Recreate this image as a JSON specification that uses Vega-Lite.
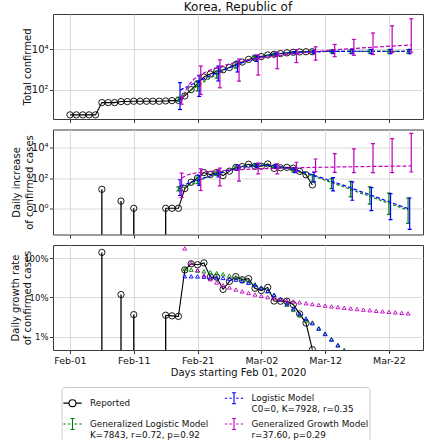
{
  "$schema": "https://vega.github.io/schema/vega-lite/v6.json",
  "background": "white",
  "padding": {"left": 9, "top": 0, "right": 4, "bottom": 2},
  "spacing": 4.5,
  "config": {
    "font": "DejaVu Sans",
    "view": {"stroke": "#3a3a3a", "strokeWidth": 1},
    "axis": {"labelFontSize": 10, "titleFontSize": 10, "titleFontWeight": "normal", "labelColor": "#111", "titleColor": "#111", "gridColor": "#d6d6d6", "gridWidth": 0.9, "tickColor": "#222", "tickSize": 3.5, "tickWidth": 0.9, "domain": false, "labelPadding": 1.5}
  },
  "resolve": {"scale": {"color": "independent", "shape": "independent"}, "legend": {"color": "independent", "shape": "independent"}},
  "datasets": {
    "rep": [
      {"day":0,"total":6},{"day":1,"total":6},{"day":2,"total":6},{"day":3,"total":6},{"day":4,"total":6},
      {"day":5,"total":24,"inc":18,"rate":138.6,"stem":true},
      {"day":6,"total":24},{"day":7,"total":24},
      {"day":8,"total":27,"inc":3,"rate":11.78,"stem":true},
      {"day":9,"total":27},
      {"day":10,"total":28,"inc":1,"rate":3.64,"stem":true},
      {"day":11,"total":28},{"day":12,"total":28},{"day":13,"total":28},{"day":14,"total":28},
      {"day":15,"total":29,"inc":1,"rate":3.51,"stem":true},
      {"day":16,"total":30,"inc":1,"rate":3.39},
      {"day":17,"total":31,"inc":1,"rate":3.28},
      {"day":18,"total":51,"inc":20,"rate":49.8},
      {"day":19,"total":104,"inc":53,"rate":71.3},
      {"day":20,"total":204,"inc":100,"rate":67.4},
      {"day":21,"total":433,"inc":229,"rate":75.3},
      {"day":22,"total":602,"inc":169,"rate":32.95},
      {"day":23,"total":833,"inc":231,"rate":32.48},
      {"day":24,"total":977,"inc":144,"rate":15.95},
      {"day":25,"total":1261,"inc":284,"rate":25.52},
      {"day":26,"total":1766,"inc":505,"rate":33.68},
      {"day":27,"total":2337,"inc":571,"rate":28.02},
      {"day":28,"total":3150,"inc":813,"rate":29.85},
      {"day":29,"total":3736,"inc":586,"rate":17.06},
      {"day":30,"total":4335,"inc":599,"rate":14.87},
      {"day":31,"total":5186,"inc":851,"rate":17.92},
      {"day":32,"total":5621,"inc":435,"rate":8.05},
      {"day":33,"total":6088,"inc":467,"rate":7.98},
      {"day":34,"total":6593,"inc":505,"rate":7.97},
      {"day":35,"total":7041,"inc":448,"rate":6.57},
      {"day":36,"total":7314,"inc":273,"rate":3.80},
      {"day":37,"total":7478,"inc":164,"rate":2.22},
      {"day":38,"total":7513,"inc":35,"rate":0.467}
    ],
    "mod": [
      {"m":"G","day":17,"C":35,"dC":18.9,"Clo":28,"Chi":44,"dlo":14,"dhi":26},
      {"m":"G","day":18,"C":59.3,"dC":24.3,"g":52.7},
      {"m":"G","day":19,"C":98.2,"dC":38.9,"g":50.4},
      {"m":"G","day":20,"C":158.8,"dC":60.6,"g":48.1,"Clo":90,"Chi":260,"dlo":42,"dhi":117},
      {"m":"G","day":21,"C":251.3,"dC":92.5,"g":45.9},
      {"m":"G","day":22,"C":388.8,"dC":137.5,"g":43.6},
      {"m":"G","day":23,"C":587.3,"dC":198.5,"g":41.2,"Clo":380,"Chi":850,"dlo":150,"dhi":260},
      {"m":"G","day":24,"C":864.5,"dC":277.2,"g":38.7},
      {"m":"G","day":25,"C":1236.8,"dC":372.3,"g":35.8},
      {"m":"G","day":26,"C":1714.6,"dC":477.8,"g":32.7,"Clo":1200,"Chi":2400,"dlo":370,"dhi":600},
      {"m":"G","day":27,"C":2295.8,"dC":581.2,"g":29.2},
      {"m":"G","day":28,"C":2962,"dC":666.2,"g":25.5},
      {"m":"G","day":29,"C":3677,"dC":715,"g":21.6,"Clo":3000,"Chi":4400,"dlo":600,"dhi":850},
      {"m":"G","day":30,"C":4396,"dC":719,"g":17.9},
      {"m":"G","day":31,"C":5074,"dC":678,"g":14.35},
      {"m":"G","day":32,"C":5677,"dC":603,"g":11.2,"Clo":5000,"Chi":6300,"dlo":500,"dhi":720},
      {"m":"G","day":33,"C":6186,"dC":509,"g":8.59},
      {"m":"G","day":34,"C":6599,"dC":413,"g":6.46},
      {"m":"G","day":35,"C":6922,"dC":323,"g":4.78,"Clo":6300,"Chi":7500,"dlo":250,"dhi":420},
      {"m":"G","day":36,"C":7169,"dC":247,"g":3.51},
      {"m":"G","day":37,"C":7354,"dC":185,"g":2.6},
      {"m":"G","day":38,"C":7499,"dC":145,"g":2.3,"Clo":6700,"Chi":8300,"dlo":60,"dhi":170},
      {"m":"G","day":39,"C":7601,"dC":102,"g":1.66},
      {"m":"G","day":40,"C":7672,"dC":71,"g":1.2},
      {"m":"G","day":41,"C":7723,"dC":51,"g":0.87,"Clo":6500,"Chi":9000,"dlo":20,"dhi":90},
      {"m":"G","day":42,"C":7758,"dC":35.4,"g":0.62},
      {"m":"G","day":43,"C":7783,"dC":25,"g":0.46},
      {"m":"G","day":44,"C":7801,"dC":17.7,"Clo":6400,"Chi":9200,"dlo":5.6,"dhi":60},
      {"m":"G","day":45,"C":7813.5,"dC":12.4},
      {"m":"G","day":46,"C":7822,"dC":8.7},
      {"m":"G","day":47,"C":7828.4,"dC":6.2,"Clo":6400,"Chi":9300,"dlo":1.9,"dhi":26},
      {"m":"G","day":48,"C":7832.7,"dC":4.3},
      {"m":"G","day":49,"C":7835.8,"dC":3.05},
      {"m":"G","day":50,"C":7837.9,"dC":2.15,"Clo":6400,"Chi":9300,"dlo":0.4,"dhi":10},
      {"m":"G","day":51,"C":7839.4,"dC":1.5},
      {"m":"G","day":52,"C":7840.5,"dC":1.07},
      {"m":"G","day":53,"C":7841.2,"dC":0.75,"Clo":6400,"Chi":9300,"dlo":0.1,"dhi":4.8},
      {"m":"L","day":17,"C":98.6,"dC":28.9,"Clo":11,"Chi":229,"dlo":7,"dhi":77},
      {"m":"L","day":18,"C":139.2,"dC":40.6,"g":34.49},
      {"m":"L","day":19,"C":196.0,"dC":56.8,"g":34.22},
      {"m":"L","day":20,"C":275.3,"dC":79.3,"g":33.98,"Clo":48,"Chi":518,"dlo":33,"dhi":150},
      {"m":"L","day":21,"C":385.0,"dC":109.7,"g":33.54},
      {"m":"L","day":22,"C":535.3,"dC":150.3,"g":32.96},
      {"m":"L","day":23,"C":738.9,"dC":203.6,"g":32.24,"Clo":276,"Chi":1480,"dlo":117,"dhi":320},
      {"m":"L","day":24,"C":1009.2,"dC":270.3,"g":31.18},
      {"m":"L","day":25,"C":1359.6,"dC":350.4,"g":29.80},
      {"m":"L","day":26,"C":1800.2,"dC":440.6,"g":28.07,"Clo":760,"Chi":2590,"dlo":320,"dhi":700},
      {"m":"L","day":27,"C":2332.5,"dC":532.3,"g":25.91},
      {"m":"L","day":28,"C":2946.7,"dC":614.2,"g":23.37},
      {"m":"L","day":29,"C":3618.1,"dC":671.4,"g":20.53,"Clo":2500,"Chi":4800,"dlo":500,"dhi":900},
      {"m":"L","day":30,"C":4309.9,"dC":691.8,"g":17.50},
      {"m":"L","day":31,"C":4981.2,"dC":671.3,"g":14.48},
      {"m":"L","day":32,"C":5595.3,"dC":614.1,"g":11.63,"Clo":4600,"Chi":6500,"dlo":450,"dhi":800},
      {"m":"L","day":33,"C":6127.6,"dC":532.3,"g":9.09},
      {"m":"L","day":34,"C":6568.3,"dC":440.7,"g":6.95},
      {"m":"L","day":35,"C":6918.6,"dC":350.3,"g":5.20,"Clo":6100,"Chi":7700,"dlo":230,"dhi":480},
      {"m":"L","day":36,"C":7188.9,"dC":270.3,"g":3.85},
      {"m":"L","day":37,"C":7392.6,"dC":203.7,"g":2.9},
      {"m":"L","day":38,"C":7543.0,"dC":150.4,"g":2.2,"Clo":6300,"Chi":8800,"dlo":55,"dhi":248},
      {"m":"L","day":39,"C":7652.7,"dC":109.7,"g":1.6},
      {"m":"L","day":40,"C":7732.0,"dC":79.3,"g":1.17},
      {"m":"L","day":41,"C":7788.8,"dC":56.8,"g":0.84,"Clo":6100,"Chi":9500,"dlo":14,"dhi":105},
      {"m":"L","day":42,"C":7829.4,"dC":40.6,"g":0.6},
      {"m":"L","day":43,"C":7858.3,"dC":28.9,"g":0.43},
      {"m":"L","day":44,"C":7878.7,"dC":20.5,"Clo":6000,"Chi":9700,"dlo":3.4,"dhi":55},
      {"m":"L","day":45,"C":7893.2,"dC":14.4},
      {"m":"L","day":46,"C":7903.5,"dC":10.15},
      {"m":"L","day":47,"C":7910.7,"dC":7.15,"Clo":6000,"Chi":9800,"dlo":0.7,"dhi":23},
      {"m":"L","day":48,"C":7915.8,"dC":5.04},
      {"m":"L","day":49,"C":7919.4,"dC":3.55},
      {"m":"L","day":50,"C":7921.9,"dC":2.50,"Clo":6000,"Chi":9800,"dlo":0.18,"dhi":9.3},
      {"m":"L","day":51,"C":7923.7,"dC":1.76},
      {"m":"L","day":52,"C":7925.0,"dC":1.24},
      {"m":"L","day":53,"C":7925.9,"dC":0.875,"Clo":6000,"Chi":9800,"dlo":0.04,"dhi":4.8},
      {"m":"M","day":17,"C":28.7,"dC":99.6,"Clo":20,"Chi":45,"dlo":5,"dhi":210},
      {"m":"M","day":18,"C":164.9,"dC":165.4,"g":174.9},
      {"m":"M","day":19,"C":351.3,"dC":206,"g":75.6},
      {"m":"M","day":20,"C":572.5,"dC":237.3,"g":48.9,"Clo":60,"Chi":1500,"dlo":15,"dhi":400},
      {"m":"M","day":21,"C":822.5,"dC":263.7,"g":36.2},
      {"m":"M","day":22,"C":1097,"dC":286.5,"g":28.8},
      {"m":"M","day":23,"C":1394,"dC":307.2,"g":23.9,"Clo":128,"Chi":3000,"dlo":30,"dhi":450},
      {"m":"M","day":24,"C":1710,"dC":326,"g":20.4},
      {"m":"M","day":25,"C":2045,"dC":343,"g":17.8},
      {"m":"M","day":26,"C":2395,"dC":359.5,"g":15.8,"Clo":270,"Chi":3300,"dlo":63,"dhi":590},
      {"m":"M","day":27,"C":2760,"dC":374.5,"g":14.2},
      {"m":"M","day":28,"C":3145,"dC":388.8,"g":12.9},
      {"m":"M","day":29,"C":3533,"dC":402,"g":11.8,"Clo":540,"Chi":5200,"dlo":190,"dhi":950},
      {"m":"M","day":30,"C":3941,"dC":415.4,"g":10.9},
      {"m":"M","day":31,"C":4360,"dC":427.5,"g":10.13},
      {"m":"M","day":32,"C":4792,"dC":439.5,"g":9.45,"Clo":1100,"Chi":7300,"dlo":190,"dhi":870},
      {"m":"M","day":33,"C":5236,"dC":451,"g":8.85},
      {"m":"M","day":34,"C":5694,"dC":462,"g":8.33},
      {"m":"M","day":35,"C":6157,"dC":472.6,"g":7.86,"Clo":2200,"Chi":9500,"dlo":260,"dhi":1100},
      {"m":"M","day":36,"C":6634,"dC":483,"g":7.45},
      {"m":"M","day":37,"C":7122,"dC":493,"g":7.08},
      {"m":"M","day":38,"C":7617,"dC":502.7,"g":6.74,"Clo":2900,"Chi":13000,"dlo":260,"dhi":1800},
      {"m":"M","day":39,"C":8130,"dC":512.5,"g":6.43},
      {"m":"M","day":40,"C":8641,"dC":521.5,"g":6.15},
      {"m":"M","day":41,"C":9165,"dC":530.5,"g":5.89,"Clo":4300,"Chi":17000,"dlo":236,"dhi":4100},
      {"m":"M","day":42,"C":9703,"dC":539.2,"g":5.65},
      {"m":"M","day":43,"C":10240,"dC":547.8,"g":5.44},
      {"m":"M","day":44,"C":10790,"dC":556,"g":5.23,"Clo":5000,"Chi":30000,"dlo":230,"dhi":8500},
      {"m":"M","day":45,"C":11350,"dC":564.4,"g":5.04},
      {"m":"M","day":46,"C":11900,"dC":572.3,"g":4.87},
      {"m":"M","day":47,"C":12480,"dC":580.5,"g":4.71,"Clo":5500,"Chi":62000,"dlo":230,"dhi":18500},
      {"m":"M","day":48,"C":13060,"dC":588,"g":4.55},
      {"m":"M","day":49,"C":13640,"dC":595.6,"g":4.41},
      {"m":"M","day":50,"C":14240,"dC":603,"g":4.28,"Clo":7000,"Chi":140000,"dlo":230,"dhi":40000},
      {"m":"M","day":51,"C":14850,"dC":610,"g":4.15},
      {"m":"M","day":52,"C":15460,"dC":617.8,"g":4.03},
      {"m":"M","day":53,"C":16080,"dC":624.5,"g":3.92,"Clo":7200,"Chi":310000,"dlo":250,"dhi":89000}
    ]
  },
  "vconcat": [
    {
      "width": 370, "height": 105,
      "title": {"text": "Korea, Republic of", "fontSize": 12, "font": "DejaVu Sans", "fontWeight": "normal", "color": "#111", "anchor": "middle", "offset": 0},
      "encoding": {"x": {"field": "day", "type": "quantitative", "scale": {"domain": [-2.66, 55.34], "nice": false, "zero": false}, "axis": {"values": [0,10,20,30,40,50], "labels": false, "title": null}}},
      "layer": [
        {"data": {"name": "rep"}, "mark": {"type": "line", "color": "black", "strokeWidth": 1.1},
         "encoding": {"y": {"field": "total", "type": "quantitative", "scale": {"type": "log", "domain": [3.77, 530000], "nice": false},
           "axis": {"values": [100, 10000], "labelExpr": "datum.value == 100 ? '10²' : '10⁴'", "title": "Total confirmed", "titleX": -20.9, "titleY": 52.5, "titleBaseline": "bottom", "titleAngle": -90}}}},
        {"data": {"name": "rep"}, "mark": {"type": "point", "shape": "circle", "filled": false, "color": "black", "size": 40, "strokeWidth": 0.9, "opacity": 1},
         "encoding": {"y": {"field": "total", "type": "quantitative"}}},

        {"data": {"name": "mod"}, "transform": [{"filter": "datum.m === 'G'"}], "mark": {"type": "line", "color": "#008000", "strokeWidth": 1.2, "strokeDash": [3, 2], "clip": true},
         "encoding": {"y": {"field": "C", "type": "quantitative"}}},
        {"data": {"name": "mod"}, "transform": [{"filter": "datum.m === 'G' && isValid(datum.Clo)"}], "mark": {"type": "rule", "color": "#008000", "strokeWidth": 1.2, "clip": true},
         "encoding": {"y": {"field": "Clo", "type": "quantitative"}, "y2": {"field": "Chi"}}},
        {"data": {"name": "mod"}, "transform": [{"filter": "datum.m === 'G' && isValid(datum.Clo)"}, {"fold": ["Clo", "Chi"], "as": ["k", "v"]}], "mark": {"type": "tick", "orient": "horizontal", "color": "#008000", "size": 4, "thickness": 1.2, "opacity": 1, "clip": true},
         "encoding": {"y": {"field": "v", "type": "quantitative"}}},

        {"data": {"name": "mod"}, "transform": [{"filter": "datum.m === 'L'"}], "mark": {"type": "line", "color": "#0000ff", "strokeWidth": 1.2, "strokeDash": [4, 2], "xOffset": 1.6, "clip": true},
         "encoding": {"y": {"field": "C", "type": "quantitative"}}},
        {"data": {"name": "mod"}, "transform": [{"filter": "datum.m === 'L' && isValid(datum.Clo)"}], "mark": {"type": "rule", "color": "#0000ff", "strokeWidth": 1.2, "xOffset": 1.6, "clip": true},
         "encoding": {"y": {"field": "Clo", "type": "quantitative"}, "y2": {"field": "Chi"}}},
        {"data": {"name": "mod"}, "transform": [{"filter": "datum.m === 'L' && isValid(datum.Clo)"}, {"fold": ["Clo", "Chi"], "as": ["k", "v"]}], "mark": {"type": "tick", "orient": "horizontal", "color": "#0000ff", "size": 4, "thickness": 1.2, "opacity": 1, "xOffset": 1.6, "clip": true},
         "encoding": {"y": {"field": "v", "type": "quantitative"}}},

        {"data": {"name": "mod"}, "transform": [{"filter": "datum.m === 'M'"}], "mark": {"type": "line", "color": "#bf00bf", "strokeWidth": 1.2, "strokeDash": [4, 2], "xOffset": 3.2, "clip": true},
         "encoding": {"y": {"field": "C", "type": "quantitative"}}},
        {"data": {"name": "mod"}, "transform": [{"filter": "datum.m === 'M' && isValid(datum.Clo)"}], "mark": {"type": "rule", "color": "#bf00bf", "strokeWidth": 1.2, "xOffset": 3.2, "clip": true},
         "encoding": {"y": {"field": "Clo", "type": "quantitative"}, "y2": {"field": "Chi"}}},
        {"data": {"name": "mod"}, "transform": [{"filter": "datum.m === 'M' && isValid(datum.Clo)"}, {"fold": ["Clo", "Chi"], "as": ["k", "v"]}], "mark": {"type": "tick", "orient": "horizontal", "color": "#bf00bf", "size": 4, "thickness": 1.2, "opacity": 1, "xOffset": 3.2, "clip": true},
         "encoding": {"y": {"field": "v", "type": "quantitative"}}}
      ]
    },
    {
      "width": 370, "height": 105,
      "encoding": {"x": {"field": "day", "type": "quantitative", "scale": {"domain": [-2.66, 55.34], "nice": false, "zero": false}, "axis": {"values": [0,10,20,30,40,50], "labels": false, "title": null}}},
      "layer": [
        {"data": {"name": "rep"}, "transform": [{"filter": "datum.stem === true"}], "mark": {"type": "rule", "color": "black", "strokeWidth": 1.3, "clip": true},
         "encoding": {"y": {"field": "inc", "type": "quantitative", "scale": {"type": "log", "domain": [0.0186, 160000], "nice": false},
           "axis": {"values": [1, 100, 10000], "labelExpr": "datum.value == 1 ? '10⁰' : datum.value == 100 ? '10²' : '10⁴'", "title": ["Daily increase", "of confirmed cases"], "titleX": -31.2, "titleY": 52.5, "titleBaseline": "bottom", "titleAngle": -90, "titleLineHeight": 12.6}},
           "y2": {"datum": 0.001}}},
        {"data": {"name": "rep"}, "transform": [{"filter": "datum.day >= 15"}], "mark": {"type": "line", "color": "black", "strokeWidth": 1.1, "clip": true},
         "encoding": {"y": {"field": "inc", "type": "quantitative"}}},
        {"data": {"name": "rep"}, "transform": [{"filter": "isValid(datum.inc)"}], "mark": {"type": "point", "shape": "circle", "filled": false, "color": "black", "size": 40, "strokeWidth": 0.9, "opacity": 1, "clip": true},
         "encoding": {"y": {"field": "inc", "type": "quantitative"}}},

        {"data": {"name": "mod"}, "transform": [{"filter": "datum.m === 'G'"}], "mark": {"type": "line", "color": "#008000", "strokeWidth": 1.2, "strokeDash": [3, 2], "clip": true},
         "encoding": {"y": {"field": "dC", "type": "quantitative"}}},
        {"data": {"name": "mod"}, "transform": [{"filter": "datum.m === 'G' && isValid(datum.dlo)"}], "mark": {"type": "rule", "color": "#008000", "strokeWidth": 1.2, "clip": true},
         "encoding": {"y": {"field": "dlo", "type": "quantitative"}, "y2": {"field": "dhi"}}},
        {"data": {"name": "mod"}, "transform": [{"filter": "datum.m === 'G' && isValid(datum.dlo)"}, {"fold": ["dlo", "dhi"], "as": ["k", "v"]}], "mark": {"type": "tick", "orient": "horizontal", "color": "#008000", "size": 4, "thickness": 1.2, "opacity": 1, "clip": true},
         "encoding": {"y": {"field": "v", "type": "quantitative"}}},

        {"data": {"name": "mod"}, "transform": [{"filter": "datum.m === 'L'"}], "mark": {"type": "line", "color": "#0000ff", "strokeWidth": 1.2, "strokeDash": [4, 2], "xOffset": 1.6, "clip": true},
         "encoding": {"y": {"field": "dC", "type": "quantitative"}}},
        {"data": {"name": "mod"}, "transform": [{"filter": "datum.m === 'L' && isValid(datum.dlo)"}], "mark": {"type": "rule", "color": "#0000ff", "strokeWidth": 1.2, "xOffset": 1.6, "clip": true},
         "encoding": {"y": {"field": "dlo", "type": "quantitative"}, "y2": {"field": "dhi"}}},
        {"data": {"name": "mod"}, "transform": [{"filter": "datum.m === 'L' && isValid(datum.dlo)"}, {"fold": ["dlo", "dhi"], "as": ["k", "v"]}], "mark": {"type": "tick", "orient": "horizontal", "color": "#0000ff", "size": 4, "thickness": 1.2, "opacity": 1, "xOffset": 1.6, "clip": true},
         "encoding": {"y": {"field": "v", "type": "quantitative"}}},

        {"data": {"name": "mod"}, "transform": [{"filter": "datum.m === 'M'"}], "mark": {"type": "line", "color": "#bf00bf", "strokeWidth": 1.2, "strokeDash": [4, 2], "xOffset": 3.2, "clip": true},
         "encoding": {"y": {"field": "dC", "type": "quantitative"}}},
        {"data": {"name": "mod"}, "transform": [{"filter": "datum.m === 'M' && isValid(datum.dlo)"}], "mark": {"type": "rule", "color": "#bf00bf", "strokeWidth": 1.2, "xOffset": 3.2, "clip": true},
         "encoding": {"y": {"field": "dlo", "type": "quantitative"}, "y2": {"field": "dhi"}}},
        {"data": {"name": "mod"}, "transform": [{"filter": "datum.m === 'M' && isValid(datum.dlo)"}, {"fold": ["dlo", "dhi"], "as": ["k", "v"]}], "mark": {"type": "tick", "orient": "horizontal", "color": "#bf00bf", "size": 4, "thickness": 1.2, "opacity": 1, "xOffset": 3.2, "clip": true},
         "encoding": {"y": {"field": "v", "type": "quantitative"}}}
      ]
    },
    {
      "width": 370, "height": 105,
      "encoding": {"x": {"field": "day", "type": "quantitative", "scale": {"domain": [-2.66, 55.34], "nice": false, "zero": false},
        "axis": {"values": [0,10,20,30,40,50], "labelExpr": "timeFormat(datetime(2020, 1, 1 + datum.value), '%b-%d')", "labelFontSize": 9.5, "title": "Days starting Feb 01, 2020", "titlePadding": 2, "labelPadding": 2}}},
      "layer": [
        {"data": {"name": "rep"}, "transform": [{"filter": "datum.stem === true"}], "mark": {"type": "rule", "color": "black", "strokeWidth": 1.3, "clip": true},
         "encoding": {"y": {"field": "rate", "type": "quantitative", "scale": {"type": "log", "domain": [0.459, 214], "nice": false},
           "axis": {"values": [1, 10, 100], "labelExpr": "datum.value == 1 ? '1%' : datum.value == 10 ? '10%' : '100%'", "labelFontSize": 8.5, "title": ["Daily growth rate", "of confirmed cases"], "titleX": -33, "titleY": 52.5, "titleBaseline": "bottom", "titleAngle": -90, "titleLineHeight": 12.6}},
           "y2": {"datum": 0.01}}},
        {"data": {"name": "rep"}, "transform": [{"filter": "datum.day >= 15"}], "mark": {"type": "line", "color": "black", "strokeWidth": 1.1, "clip": true},
         "encoding": {"y": {"field": "rate", "type": "quantitative"}}},
        {"data": {"name": "rep"}, "transform": [{"filter": "isValid(datum.rate)"}], "mark": {"type": "point", "shape": "circle", "filled": false, "color": "black", "size": 40, "strokeWidth": 0.9, "opacity": 1, "clip": true},
         "encoding": {"y": {"field": "rate", "type": "quantitative"}}},
        {"data": {"name": "mod"}, "transform": [{"filter": "isValid(datum.g)"}], "mark": {"type": "point", "shape": "triangle-up", "filled": false, "size": 15, "strokeWidth": 0.9, "opacity": 1, "clip": true},
         "encoding": {
           "y": {"field": "g", "type": "quantitative"},
           "color": {"field": "m", "type": "nominal", "scale": {"domain": ["R", "G", "L", "M"], "range": ["#000000", "#008000", "#0000ff", "#bf00bf"]}}
         }},
        {"data": {"name": "mod"}, "transform": [{"filter": "false"}], "mark": {"type": "point", "filled": false, "strokeWidth": 1.1, "opacity": 1},
         "encoding": {
           "y": {"field": "g", "type": "quantitative"},
           "color": {"field": "m", "type": "nominal", "scale": {"domain": ["R", "G", "L", "M"], "range": ["#000000", "#008000", "#0000ff", "#bf00bf"]},
             "legend": {
               "title": null, "orient": "none", "legendX": 8.5, "legendY": 142, "columns": 2,
               "symbolSize": 335, "symbolStrokeWidth": 1.1, "labelFont": "DejaVu Sans", "labelFontSize": 8.8, "labelColor": "#111",
               "labelOffset": 7.5, "columnPadding": 13.5, "rowPadding": -5.5, "padding": 1, "labelLimit": 250,
               "strokeColor": "#cccccc", "fillColor": "#ffffff", "cornerRadius": 3,
               "labelExpr": "datum.value === 'R' ? 'Reported' : datum.value === 'L' ? ['Logistic Model', 'C0=0, K=7928, r=0.35'] : datum.value === 'G' ? ['Generalized Logistic Model', 'K=7843, r=0.72, p=0.92'] : ['Generalized Growth Model', 'r=37.60, p=0.29']",
               "encode": {"labels": {"update": {"lineHeight": {"value": 10.2}}}}
             }},
           "shape": {"field": "m", "type": "nominal",
             "scale": {"domain": ["R", "G", "L", "M"], "range": [
               "M-1,0H-0.38M0.38,0H1M0.38,0A0.38,0.38,0,1,1,-0.38,0A0.38,0.38,0,1,1,0.38,0",
               "M-1,0H-0.74M-0.5,0H-0.24M0.24,0H0.5M0.74,0H1M0,-0.6V0.6M-0.22,-0.6H0.22M-0.22,0.6H0.22",
               "M-1,0H-0.74M-0.5,0H-0.24M0.24,0H0.5M0.74,0H1M0,-0.6V0.6M-0.22,-0.6H0.22M-0.22,0.6H0.22",
               "M-1,0H-0.74M-0.5,0H-0.24M0.24,0H0.5M0.74,0H1M0,-0.6V0.6M-0.22,-0.6H0.22M-0.22,0.6H0.22"]},
             "legend": {
               "title": null, "orient": "none", "legendX": 8.5, "legendY": 142, "columns": 2,
               "symbolSize": 335, "symbolStrokeWidth": 1.1, "labelFont": "DejaVu Sans", "labelFontSize": 8.8, "labelColor": "#111",
               "labelOffset": 7.5, "columnPadding": 13.5, "rowPadding": -5.5, "padding": 1, "labelLimit": 250,
               "strokeColor": "#cccccc", "fillColor": "#ffffff", "cornerRadius": 3,
               "labelExpr": "datum.value === 'R' ? 'Reported' : datum.value === 'L' ? ['Logistic Model', 'C0=0, K=7928, r=0.35'] : datum.value === 'G' ? ['Generalized Logistic Model', 'K=7843, r=0.72, p=0.92'] : ['Generalized Growth Model', 'r=37.60, p=0.29']",
               "encode": {"labels": {"update": {"lineHeight": {"value": 10.2}}}}
             }}
         }}
      ]
    }
  ]
}
